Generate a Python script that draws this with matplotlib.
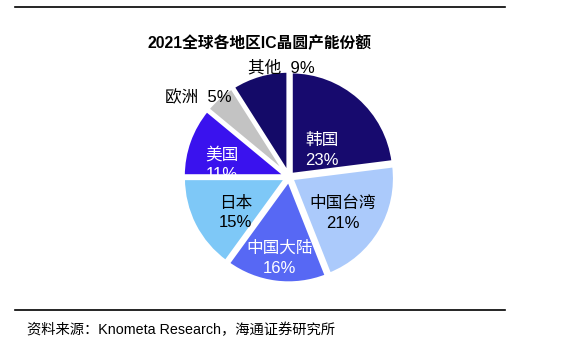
import matplotlib
matplotlib.use('Agg')
import matplotlib.pyplot as plt
from matplotlib.lines import Line2D

plt.rcParams['font.family'] = ['Liberation Sans', 'Noto Sans CJK SC', 'DejaVu Sans']

regions = ['韩国', '中国台湾', '中国大陆', '日本', '美国', '欧洲', '其他']
shares = [23, 21, 16, 15, 11, 5, 9]
colors = ['#170A6E', '#ABCAFB', '#5768F4', '#7EC8F7', '#3A12EE', '#C3C3C3', '#140A68']
text_colors = ['white', 'black', 'white', 'black', 'white', 'black', 'black']
# label positions in pie units (radius 1)
label_pos = [(0.32, 0.26), (0.52, -0.35), (-0.09, -0.79), (-0.52, -0.35),
             (-0.65, 0.12), (-0.88, 0.77), (-0.07, 1.06)]

fig = plt.figure(figsize=(5.8, 3.52), dpi=100)
fig.patch.set_facecolor('white')

r_px = 103
lim = 1.06
w = 2 * lim * r_px / 580
h = 2 * lim * r_px / 352
cx, cy = 289 / 580, 1 - 177 / 352
ax = fig.add_axes([cx - w / 2, cy - h / 2, w, h])
ax.pie(shares, colors=colors, startangle=90, counterclock=False,
       explode=[0.03] * len(shares),
       wedgeprops=dict(edgecolor='white', linewidth=2.5))
ax.set_xlim(-lim, lim)
ax.set_ylim(-lim, lim)
ax.set_aspect('equal')
ax.axis('off')

for i, (name, v) in enumerate(zip(regions, shares)):
    x, y = label_pos[i]
    if name in ('欧洲', '其他'):
        ax.text(x, y, name + '  ' + str(v) + '%', ha='center', va='center',
                fontsize=12, color=text_colors[i], clip_on=False)
    else:
        ax.text(x, y, name + '\n' + str(v) + '%', ha='center', va='center',
                fontsize=12, color=text_colors[i], linespacing=1.4)

fig.text(260 / 580, 1 - 43 / 352, '2021全球各地区IC晶圆产能份额', ha='center', va='center',
         fontsize=11.3, fontweight='bold')
fig.text(27 / 580, 1 - 330 / 352, '资料来源：Knometa Research，海通证券研究所', ha='left', va='center',
         fontsize=10.3)

fig.add_artist(Line2D([15 / 580, 505 / 580], [1 - 7 / 352] * 2, color='black', lw=1.2))
fig.add_artist(Line2D([15 / 580, 505 / 580], [1 - 310 / 352] * 2, color='black', lw=1.2))

fig.savefig('out.png', dpi=100)
